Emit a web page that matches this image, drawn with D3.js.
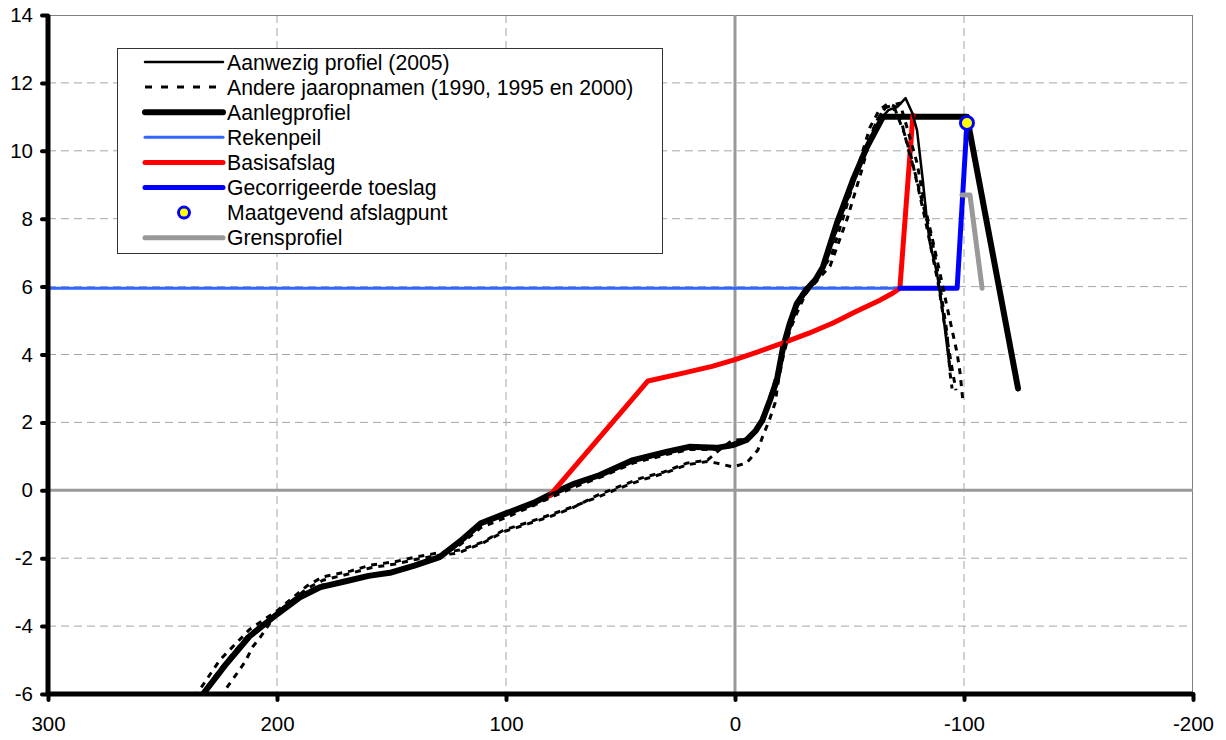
<!DOCTYPE html>
<html>
<head>
<meta charset="utf-8">
<script src="https://cdn.jsdelivr.net/npm/d3@7"></script>
<style>
  html, body { margin: 0; padding: 0; background: #fff; }
  svg { display: block; font-family: "Liberation Sans", Arial, sans-serif; }
</style>
</head>
<body>
<svg id="chart" width="1226" height="740"></svg>
<script>
// ---------- DATA ----------
const xTicks = [300, 200, 100, 0, -100, -200];
const yTicks = [-6, -4, -2, 0, 2, 4, 6, 8, 10, 12, 14];

// Aanwezig profiel (2005) - thin solid
const aanwezig2005 = [
  [232.3,-6],[222,-5.1],[212,-4.3],[200,-3.65],[190,-3.15],[181,-2.85],[170,-2.68],[160,-2.52],
  [150,-2.42],[140,-2.22],[129,-1.97],[120,-1.5],[111,-0.97],[100,-0.68],[88,-0.37],[80,-0.1],
  [70,0.2],[59,0.45],[44.5,0.89],[30,1.13],[20,1.28],[8,1.25],[1,1.33],[-5,1.48],[-9,1.75],
  [-12,2.07],[-15.3,2.66],[-18.3,3.25],[-21,4.22],[-24,4.93],[-27,5.5],[-31,5.9],[-35,6.19],
  [-38.4,6.58],[-44.5,7.87],[-51.5,9.14],[-57.6,10.11],[-63,10.9],[-67,11.2],[-71,11.3],
  [-74.5,11.55],[-77.5,11.1],[-79.5,10.6],[-82,9.14],[-83.8,7.96],[-85.1,7.28],[-88.2,6.4],
  [-90.8,5.22],[-93.9,3.54]
];

// Andere jaaropnamen (1990, 1995 en 2000) - dashed
const jaar1990 = [
  [236,-6.1],[225,-5.0],[212,-4.1],[200,-3.55],[187,-2.82],[180,-2.55],[168,-2.38],[159,-2.2],
  [149,-2.11],[139,-1.96],[130,-1.85],[120,-1.76],[110,-1.52],[101,-1.17],[91,-0.96],[81,-0.73],
  [71,-0.49],[60,-0.2],[51,0.05],[41,0.3],[31,0.5],[21,0.75],[12,0.85],[8,0.8],[1,0.69],
  [-5,0.8],[-10,1.19],[-12,1.57],[-15,2.07],[-17.5,2.57],[-19,3.25],[-21,3.93],[-24,4.72],
  [-27,5.22],[-31,5.81],[-36,6.19],[-41.5,6.6],[-49,8.0],[-55,9.35],[-60,10.6],[-65,11.25],
  [-69,11.35],[-72,11.4],[-75.5,10.6],[-79.5,9.64],[-83,8.34],[-86,7.46],[-89.5,6.4],
  [-92.6,5.4],[-94.8,4.72],[-97,4.04],[-98.3,3.45],[-99.6,2.57]
];
const jaar1995 = [
  [225,-6.1],[220.5,-5.68],[214,-5.06],[210.5,-4.6],[207,-4.3],[200,-3.6],[187,-2.9],[180,-2.65],
  [168,-2.45],[159,-2.28],[149,-2.18],[139,-2.03],[130,-1.92],[121,-1.85],[110,-1.55],[101,-1.22],
  [91,-1.0],[81,-0.78],[71,-0.52],[60,-0.14],[51,0.1],[41,0.36],[31,0.54],[21,0.8],[12,0.89],
  [6.6,1.2],[1,1.48],[-5,1.5],[-10,1.9],[-13,2.3],[-16,2.9],[-19,3.6],[-22,4.3],[-25,5.0],
  [-28,5.5],[-32,5.9],[-36,6.3],[-42,6.9],[-48,8.2],[-54,9.6],[-59,10.7],[-63,11.2],[-67,11.4],
  [-70,11.3],[-72.9,10.8],[-75.5,10.1],[-78.6,9.35],[-80.8,8.76],[-83.8,7.96],[-86,7.37],
  [-88.2,6.58],[-90.4,5.6],[-92.6,4.63],[-93.9,3.45],[-94.8,3.0]
];
const jaar2000 = [
  [234,-6.1],[224,-5.2],[213,-4.3],[200,-3.62],[190,-3.12],[181,-2.8],[170,-2.66],[160,-2.5],
  [150,-2.4],[140,-2.2],[129,-1.95],[120,-1.6],[111,-1.1],[100,-0.8],[88,-0.45],[80,-0.2],
  [70,0.1],[59,0.38],[44.5,0.8],[30,1.05],[20,1.2],[8,1.2],[1,1.3],[-5,1.45],[-9,1.7],
  [-12,2.0],[-15.3,2.6],[-18.3,3.2],[-21,4.1],[-24,4.85],[-27,5.4],[-31,5.85],[-35,6.15],
  [-39,6.6],[-45,7.8],[-52,9.1],[-58,10.2],[-62,10.9],[-66,11.3],[-70,11.2],[-74,10.5],
  [-77,9.8],[-80,8.9],[-83,8.0],[-86,7.0],[-89,6.0],[-91,5.1],[-93,4.3],[-95,3.5],[-96.5,2.95]
];

// Aanlegprofiel - thick black
const aanlegprofiel = [
  [232.3,-6],[222,-5.1],[212,-4.3],[200,-3.65],[190,-3.15],[181,-2.85],[170,-2.68],[160,-2.52],
  [150,-2.42],[140,-2.22],[129,-1.97],[120,-1.5],[111,-0.97],[100,-0.68],[88,-0.37],[80,-0.1],
  [70,0.2],[59,0.45],[44.5,0.89],[30,1.13],[20,1.28],[8,1.25],[1,1.33],[-5,1.48],[-9,1.75],
  [-12,2.07],[-15.3,2.66],[-18.3,3.25],[-21,4.22],[-24,4.93],[-27,5.5],[-31,5.9],[-35,6.19],
  [-38.4,6.58],[-44.5,7.87],[-51.5,9.14],[-57.6,10.11],[-64.6,11.0],[-101.3,11.0],[-123.6,3.0]
];

// Rekenpeil
const rekenpeil = [[300,5.95],[-72,5.95]];
// Basisafslag
const basisafslag = [
  [80.8,-0.15],[38,3.22],[22.7,3.45],[10,3.65],[0,3.85],[-10,4.08],[-21,4.34],[-32,4.62],
  [-42.8,4.93],[-47,5.07],[-51.5,5.22],[-57,5.4],[-63.3,5.6],[-66,5.7],[-69,5.81],[-72,5.95],
  [-77.7,11.05]
];
// Gecorrigeerde toeslag
const gecorrigeerd = [[-72,5.95],[-97,5.95],[-101.3,10.82]];
// Maatgevend afslagpunt
const afslagpunt = [[-101.3,10.82]];
// Grensprofiel
const grensprofiel = [[-99.1,8.7],[-102.6,8.7],[-107.9,5.95]];

const legendLabels = [
  "Aanwezig profiel (2005)",
  "Andere jaaropnamen (1990, 1995 en 2000)",
  "Aanlegprofiel",
  "Rekenpeil",
  "Basisafslag",
  "Gecorrigeerde toeslag",
  "Maatgevend afslagpunt",
  "Grensprofiel"
];

// ---------- CHART ----------
const svg = d3.select("#chart");
const L = 48, R = 1193, T = 15, B = 694;
const x = d3.scaleLinear().domain([300, -200]).range([L, R]);
const y = d3.scaleLinear().domain([-6, 14]).range([B, T]);

svg.append("defs").append("clipPath").attr("id", "clip")
  .append("rect").attr("x", L).attr("y", T).attr("width", R - L).attr("height", B - T);

// grid
const grid = svg.append("g");
grid.selectAll(".hg").data(yTicks.filter(v => v !== 0 && v !== -6 && v !== 14)).enter()
  .append("line").attr("x1", L).attr("x2", R).attr("y1", d => y(d)).attr("y2", d => y(d))
  .attr("stroke", "#a6a6a6").attr("stroke-width", 1).attr("stroke-dasharray", "8,5");
grid.selectAll(".vg").data(xTicks.filter(v => v !== 0 && v !== 300 && v !== -200)).enter()
  .append("line").attr("y1", T).attr("y2", B).attr("x1", d => x(d)).attr("x2", d => x(d))
  .attr("stroke", "#a6a6a6").attr("stroke-width", 1).attr("stroke-dasharray", "8,5");
// top & right border
svg.append("line").attr("x1", L).attr("x2", R).attr("y1", T + 0.5).attr("y2", T + 0.5)
  .attr("stroke", "#808080").attr("stroke-width", 1);
svg.append("line").attr("x1", R - 0.5).attr("x2", R - 0.5).attr("y1", T).attr("y2", B)
  .attr("stroke", "#808080").attr("stroke-width", 1);
// zero lines
svg.append("line").attr("x1", L).attr("x2", R).attr("y1", y(0)).attr("y2", y(0))
  .attr("stroke", "#999").attr("stroke-width", 3);
svg.append("line").attr("x1", x(0)).attr("x2", x(0)).attr("y1", T).attr("y2", B)
  .attr("stroke", "#999").attr("stroke-width", 3);

const line = d3.line().x(d => x(d[0])).y(d => y(d[1]));
const plot = svg.append("g").attr("clip-path", "url(#clip)");
function path(data, color, width, dash) {
  const p = plot.append("path").datum(data).attr("d", line)
    .attr("fill", "none").attr("stroke", color).attr("stroke-width", width)
    .attr("stroke-linejoin", "round").attr("stroke-linecap", dash ? "butt" : "round");
  if (dash) p.attr("stroke-dasharray", dash);
  return p;
}
path(rekenpeil, "#3366ff", 3);
path(aanlegprofiel, "#000", 6);
path(basisafslag, "#ff0000", 5);
path(gecorrigeerd, "#0000ff", 5);
path(grensprofiel, "#999999", 5);
path(aanwezig2005, "#000", 2.5);
[jaar1990, jaar1995, jaar2000].forEach(d => path(d, "#000", 3, "6,6"));

plot.selectAll(".pt").data(afslagpunt).enter().append("circle")
  .attr("cx", d => x(d[0])).attr("cy", d => y(d[1])).attr("r", 6.5)
  .attr("fill", "#ffff00").attr("stroke", "#0000ff").attr("stroke-width", 3);

// axes
const fmt = d => String(d);
const xAxis = d3.axisBottom(x).tickValues(xTicks).tickFormat(fmt).tickSize(6).tickPadding(16);
const yAxis = d3.axisLeft(y).tickValues(yTicks).tickFormat(fmt).tickSize(6).tickPadding(9);
const gx = svg.append("g").attr("transform", `translate(0,${B})`).call(xAxis);
const gy = svg.append("g").attr("transform", `translate(${L},0)`).call(yAxis);
[gx, gy].forEach(g => {
  g.select(".domain").remove();
  g.selectAll(".tick line").attr("stroke", "#000").attr("stroke-width", 4).attr("stroke-linecap", "round");
  g.selectAll(".tick text").attr("fill", "#000").style("font-size", "20.5px")
    .style("font-family", "'Liberation Sans', Arial, sans-serif");
});
svg.append("line").attr("x1", L).attr("x2", L).attr("y1", T).attr("y2", B)
  .attr("stroke", "#000").attr("stroke-width", 5);
svg.append("line").attr("x1", L).attr("x2", R).attr("y1", B).attr("y2", B)
  .attr("stroke", "#000").attr("stroke-width", 5);

// legend
const lg = svg.append("g");
lg.append("rect").attr("x", 117.5).attr("y", 48.5).attr("width", 545).attr("height", 205)
  .attr("fill", "#fff").attr("stroke", "#333").attr("stroke-width", 1);
const legendStyles = [
  {c: "#000", w: 2.5}, {c: "#000", w: 3, d: "7,9"}, {c: "#000", w: 6}, {c: "#3366ff", w: 3},
  {c: "#ff0000", w: 5}, {c: "#0000ff", w: 5}, {marker: true}, {c: "#999999", w: 5}
];
legendLabels.forEach((lab, i) => {
  const yy = 62 + i * 25.1;
  const st = legendStyles[i];
  if (st.marker) {
    lg.append("circle").attr("cx", 184).attr("cy", yy).attr("r", 5.5)
      .attr("fill", "#ffff00").attr("stroke", "#0000ff").attr("stroke-width", 3);
  } else {
    const l = lg.append("line").attr("x1", 145).attr("x2", 223).attr("y1", yy).attr("y2", yy)
      .attr("stroke", st.c).attr("stroke-width", st.w).attr("stroke-linecap", st.d ? "butt" : "round");
    if (st.d) l.attr("stroke-dasharray", st.d);
  }
  lg.append("text").attr("x", 227).attr("y", yy).attr("dy", "0.36em")
    .style("font-size", "21.2px").attr("fill", "#000").text(lab);
});
</script>
</body>
</html>
